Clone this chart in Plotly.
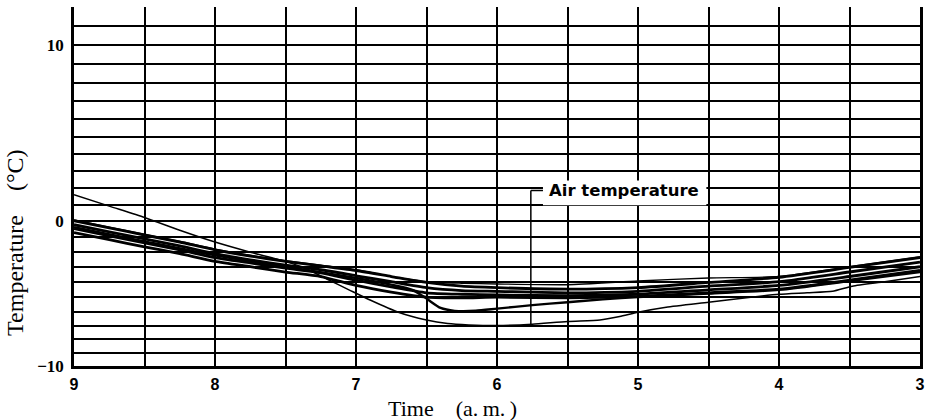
import numpy as np
import plotly.graph_objects as go

# ---------------- data ----------------
# time axis in hours a.m. (chart runs from 9 on the left to 3 on the right)
hours_bundle = [9, 8.75, 8.5, 8.25, 8, 7.75, 7.5, 7.25, 7, 6.75, 6.5, 6.25, 6, 5.5, 5, 4.5, 4, 3.5, 3]
rec_top  = [0.05, -0.4, -0.85, -1.3, -1.8, -2.2, -2.55, -2.85, -3.15, -3.6, -3.95, -4.05, -4.1, -4.15, -3.9, -3.7, -3.6, -2.95, -2.3]
rec_b1   = [0.0, -0.45, -0.9, -1.35, -1.85, -2.25, -2.6, -2.9, -3.2, -3.6, -4.0, -4.25, -4.35, -4.45, -4.35, -4.0, -3.65, -3.0, -2.35]
rec_b2   = [-0.25, -0.7, -1.15, -1.6, -2.1, -2.5, -2.85, -3.15, -3.55, -3.95, -4.35, -4.55, -4.6, -4.7, -4.6, -4.25, -3.95, -3.3, -2.65]
rec_b3   = [-0.5, -0.95, -1.4, -1.85, -2.35, -2.7, -3.05, -3.35, -3.85, -4.3, -4.7, -4.8, -4.85, -4.9, -4.8, -4.5, -4.2, -3.6, -2.95]
rec_b4   = [-0.75, -1.2, -1.65, -2.1, -2.6, -2.95, -3.3, -3.6, -4.2, -4.65, -5.0, -5.05, -5.0, -5.05, -4.95, -4.7, -4.45, -3.85, -3.2]

hours_dip = [9, 8.5, 8, 7.5, 7, 6.75, 6.6, 6.5, 6.4, 6.3, 6.15, 6, 5.75, 5.5, 5.25, 5, 4.5, 4, 3.5, 3]
rec_dip   = [-0.4, -1.3, -2.2, -2.95, -3.7, -4.15, -4.5, -5.1, -5.75, -5.95, -5.95, -5.8, -5.55, -5.35, -5.15, -5.0, -4.75, -4.5, -3.9, -3.3]

hours_air = [9, 8.75, 8.5, 8.25, 8, 7.75, 7.5, 7.35, 7.2, 7.05, 6.9, 6.7, 6.5, 6.35, 6.2, 6.0,
             5.75, 5.5, 5.27, 5.13, 5.0, 4.8, 4.5, 4.2, 4.0, 3.8, 3.62, 3.48, 3.25, 3.0]
air_temp  = [1.6, 0.9, 0.2, -0.6, -1.35, -2.0, -2.6, -3.1, -3.8, -4.5, -5.2, -6.05, -6.6, -6.85, -6.95, -7.0,
             -6.9, -6.7, -6.6, -6.35, -6.05, -5.7, -5.35, -5.0, -4.8, -4.7, -4.6, -4.25, -3.95, -3.6]

x_ticks = [9, 8.5, 8, 7.5, 7, 6.5, 6, 5.5, 5, 4.5, 4, 3.5, 3]
x_labels = ["9", "", "8", "", "7", "", "6", "", "5", "", "4", "", "3"]
y_grid = list(range(-10, 12))
y_labels = {10: "10", 0: "0", -10: "\u221210"}

label_text = "Air temperature"
label_hour = 5.1
label_temp = 1.85
bracket_hour = 5.76


# recorder paper has a slightly non-linear temperature scale
def chart_scale(t):
    t = np.asarray(t, dtype=float)
    return 16.05 * t + 0.152 * t ** 2


fig = go.Figure()

def add(hours, temps, width):
    fig.add_trace(go.Scatter(x=hours, y=chart_scale(temps), mode="lines",
                             line=dict(color="black", width=width, shape="spline", smoothing=0.6),
                             showlegend=False, hoverinfo="skip"))

add(hours_bundle, rec_top, 1.4)
add(hours_bundle, rec_b1, 2.8)
add(hours_bundle, rec_b2, 2.8)
add(hours_bundle, rec_b3, 2.8)
add(hours_bundle, rec_b4, 2.8)
add(hours_dip, rec_dip, 2.4)
add(hours_air, air_temp, 1.5)

y_top = chart_scale(-10) + 359

# label box, bracket
air_at_bracket = float(np.interp(bracket_hour, hours_air[::-1], air_temp[::-1]))
shapes = [
    dict(type="rect", xref="x", yref="y", x0=5.674, x1=4.515,
         y0=float(chart_scale(0.95)), y1=float(chart_scale(2.45)),
         fillcolor="white", line=dict(width=0), layer="between"),
    dict(type="line", xref="x", yref="y", x0=bracket_hour, x1=5.674,
         y0=float(chart_scale(label_temp)), y1=float(chart_scale(label_temp)),
         line=dict(color="black", width=1.5)),
    dict(type="line", xref="x", yref="y", x0=bracket_hour, x1=bracket_hour,
         y0=float(chart_scale(label_temp)), y1=float(chart_scale(air_at_bracket)),
         line=dict(color="black", width=1.5)),
]

annotations = [
    dict(text=label_text, x=label_hour, y=float(chart_scale(label_temp)), xref="x", yref="y",
         showarrow=False, font=dict(family="DejaVu Sans", size=16.5, color="black", weight="bold"),
         xanchor="center", yanchor="middle"),
    dict(text="Temperature\u2003(°C)", x=-0.07, y=0.345, xref="paper", yref="paper",
         textangle=-90, showarrow=False,
         font=dict(family="Liberation Serif", size=24, color="black"),
         xanchor="center", yanchor="middle"),
    dict(text="Time\u2003(a.\u2009m.\u2009)", x=0.447, y=-0.118, xref="paper", yref="paper",
         showarrow=False, font=dict(family="Liberation Serif", size=22, color="black"),
         xanchor="center", yanchor="middle"),
]

fig.update_layout(
    width=927, height=420,
    margin=dict(l=74, r=7, t=7, b=54, autoexpand=False),
    paper_bgcolor="white", plot_bgcolor="white",
    shapes=shapes, annotations=annotations,
    xaxis=dict(range=[9, 3], tickvals=x_ticks, ticktext=x_labels,
               showgrid=True, gridcolor="black", gridwidth=2,
               showline=True, linecolor="black", linewidth=2.5,
               zeroline=False, ticks="", ticklabelstandoff=2, automargin=False,
               ticklabeloverflow="allow",
               tickfont=dict(family="Liberation Sans", size=16, color="black", weight="bold")),
    yaxis=dict(range=[float(chart_scale(-10)), float(y_top)],
               tickvals=[float(chart_scale(t)) for t in y_grid],
               ticktext=[y_labels.get(t, "") for t in y_grid],
               showgrid=True, gridcolor="black", gridwidth=2,
               showline=True, mirror=True, linecolor="black", linewidth=2.5,
               zeroline=False, ticks="", ticklabelstandoff=4, automargin=False,
               ticklabeloverflow="allow",
               tickfont=dict(family="Liberation Serif", size=17, color="black", weight="bold")),
)

fig.write_html("out.html", config={"displayModeBar": False},
               post_script="document.body.style.margin='0';document.body.style.overflow='hidden';")
